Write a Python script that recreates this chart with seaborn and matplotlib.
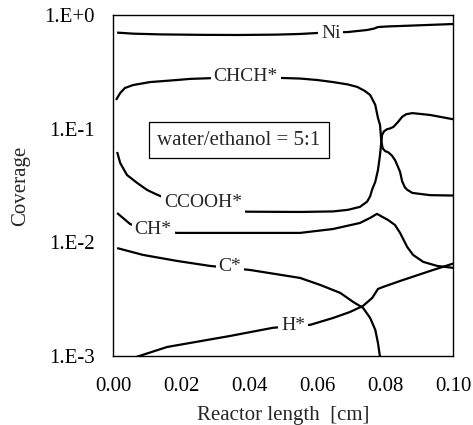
import numpy as np
import pandas as pd
import matplotlib
matplotlib.use("Agg")
import matplotlib.pyplot as plt
import seaborn as sns

# Surface coverages along the reactor (water/ethanol = 5:1)
ni_x = [0.0012, 0.006, 0.014, 0.026, 0.037, 0.048, 0.055, 0.0599, 0.069, 0.0747, 0.0768, 0.0779,
        0.0815, 0.0844, 0.1]
ni_y = [0.70, 0.685, 0.675, 0.669, 0.667, 0.672, 0.681, 0.694, 0.708, 0.738, 0.76, 0.784,
        0.795, 0.80, 0.833]

chch_x = [0.0009, 0.0021, 0.0035, 0.0059, 0.0109, 0.0188, 0.0226, 0.03, 0.0403, 0.05, 0.055,
          0.06, 0.0647, 0.069, 0.0718, 0.074, 0.0756, 0.0771, 0.0779, 0.0785, 0.0789, 0.0793,
          0.0800, 0.0809, 0.0820, 0.0829, 0.0838, 0.0844, 0.085, 0.0858, 0.0865, 0.088, 0.0932, 0.1]
chch_y = [0.179, 0.206, 0.228, 0.242, 0.257, 0.268, 0.274, 0.279, 0.281, 0.279, 0.276,
          0.268, 0.257, 0.245, 0.233, 0.215, 0.198, 0.162, 0.124, 0.108, 0.077, 0.067,
          0.0635, 0.062, 0.058, 0.053, 0.046, 0.0416, 0.0345, 0.0305, 0.029, 0.0272, 0.026, 0.0258]

ccooh_x = [0.0012, 0.0021, 0.0041, 0.0071, 0.010, 0.0124, 0.016, 0.025, 0.035, 0.0394, 0.055,
           0.0647, 0.069, 0.0726, 0.0747, 0.0756, 0.0762, 0.0771, 0.0779, 0.0785, 0.0789, 0.0791,
           0.0797, 0.0806, 0.0815, 0.0825, 0.0838, 0.085, 0.0862, 0.088, 0.0932, 0.1]
ccooh_y = [0.0624, 0.0499, 0.0391, 0.0333, 0.0289, 0.0267, 0.024, 0.0205, 0.019, 0.0186, 0.0185,
           0.0187, 0.0193, 0.0205, 0.0228, 0.0254, 0.0292, 0.034, 0.0433, 0.0587, 0.077, 0.088,
           0.095, 0.099, 0.1005, 0.104, 0.1146, 0.127, 0.134, 0.137, 0.132, 0.121]

ch_x = [0.0012, 0.0029, 0.005, 0.0085, 0.0188, 0.0382, 0.055, 0.0647, 0.0726, 0.0756, 0.0776,
        0.0791, 0.0809, 0.0829, 0.0844, 0.0865, 0.0882, 0.0912, 0.0953, 0.1]
ch_y = [0.0181, 0.0164, 0.0145, 0.0132, 0.0121, 0.0121, 0.0121, 0.0131, 0.0148, 0.0164, 0.0178,
        0.0168, 0.0157, 0.0142, 0.0121, 0.0091, 0.00776, 0.00673, 0.0062, 0.00596]

c_x = [0.0012, 0.0088, 0.0188, 0.0285, 0.0403, 0.055, 0.0609, 0.0668, 0.0706, 0.0735, 0.0756,
       0.0771, 0.0779, 0.0785, 0.0788]
c_y = [0.0089, 0.00775, 0.00686, 0.0062, 0.00571, 0.00486, 0.00422, 0.00359, 0.00299, 0.00265,
       0.00216, 0.0017, 0.0013, 0.00098, 0.0005]

h_x = [0.003, 0.0059, 0.0159, 0.0344, 0.047, 0.058, 0.0647, 0.0697, 0.0735, 0.0762, 0.0779,
       0.0794, 0.0844, 0.0941, 0.1]
h_y = [0.0009, 0.00096, 0.0012, 0.00150, 0.00177, 0.00188, 0.00216, 0.00244, 0.00276, 0.00324,
       0.00389, 0.00405, 0.00457, 0.00571, 0.0065]

species = ["Ni", "CHCH*", "CCOOH*", "CH*", "C*", "H*"]
series = [(ni_x, ni_y), (chch_x, chch_y), (ccooh_x, ccooh_y), (ch_x, ch_y), (c_x, c_y), (h_x, h_y)]

# inline label anchors (x, y) for each species
label_x = [0.064, 0.039, 0.0265, 0.0118, 0.0344, 0.053]
label_y = [0.694, 0.285, 0.0222, 0.01285, 0.00608, 0.00184]

y_ticks = [1e-3, 1e-2, 1e-1, 1e0]
y_ticklabels = ["1.E-3", "1.E-2", "1.E-1", "1.E+0"]
x_ticks = [0.0, 0.02, 0.04, 0.06, 0.08, 0.10]
x_ticklabels = ["0.00", "0.02", "0.04", "0.06", "0.08", "0.10"]

frames = []
for name, (xs, ys) in zip(species, series):
    frames.append(pd.DataFrame({"species": name, "x": xs, "y": ys}))
df = pd.concat(frames, ignore_index=True)

sns.set_style("white")
plt.rcParams["font.family"] = ["Liberation Serif", "DejaVu Serif"]

fig = plt.figure(figsize=(4.73, 4.25), dpi=100)
ax = fig.add_axes([0.239, 0.1624, 0.719, 0.8023])

for name in species:
    sub = df[df["species"] == name]
    sns.lineplot(data=sub, x="x", y="y", ax=ax, color="black", linewidth=1.6,
                 sort=False, estimator=None, legend=False, zorder=2)
for ln in ax.lines:
    ln.set_solid_joinstyle("round")
    ln.set_solid_capstyle("butt")

ax.set_yscale("log")
ax.set_xlim(0, 0.1)
ax.set_ylim(1e-3, 1e0)
ax.set_yticks(y_ticks)
ax.set_yticklabels(y_ticklabels)
ax.minorticks_off()
ax.set_xticks(x_ticks)
ax.set_xticklabels(x_ticklabels)
ax.tick_params(axis="both", length=0, labelsize=15, colors="black")
ax.tick_params(axis="y", pad=13)
ax.tick_params(axis="x", pad=15)

for name, lx, ly in zip(species, label_x, label_y):
    ax.text(lx, ly, name, fontsize=14, ha="center", va="center", zorder=5,
            bbox=dict(boxstyle="square,pad=0.15", facecolor="white", edgecolor="none"))

ax.text(0.3706, 0.633, "water/ethanol = 5:1", transform=ax.transAxes, fontsize=15,
        ha="center", va="center", zorder=5,
        bbox=dict(boxstyle="square,pad=0.4", facecolor="white", edgecolor="black", linewidth=0.9))

ax.set_xlabel("Reactor length  [cm]", fontsize=15, labelpad=7)
ax.set_ylabel("Coverage", fontsize=15, labelpad=10)

for sp in ax.spines.values():
    sp.set_color("black")
    sp.set_linewidth(1.0)

fig.savefig("out.png", dpi=100)
